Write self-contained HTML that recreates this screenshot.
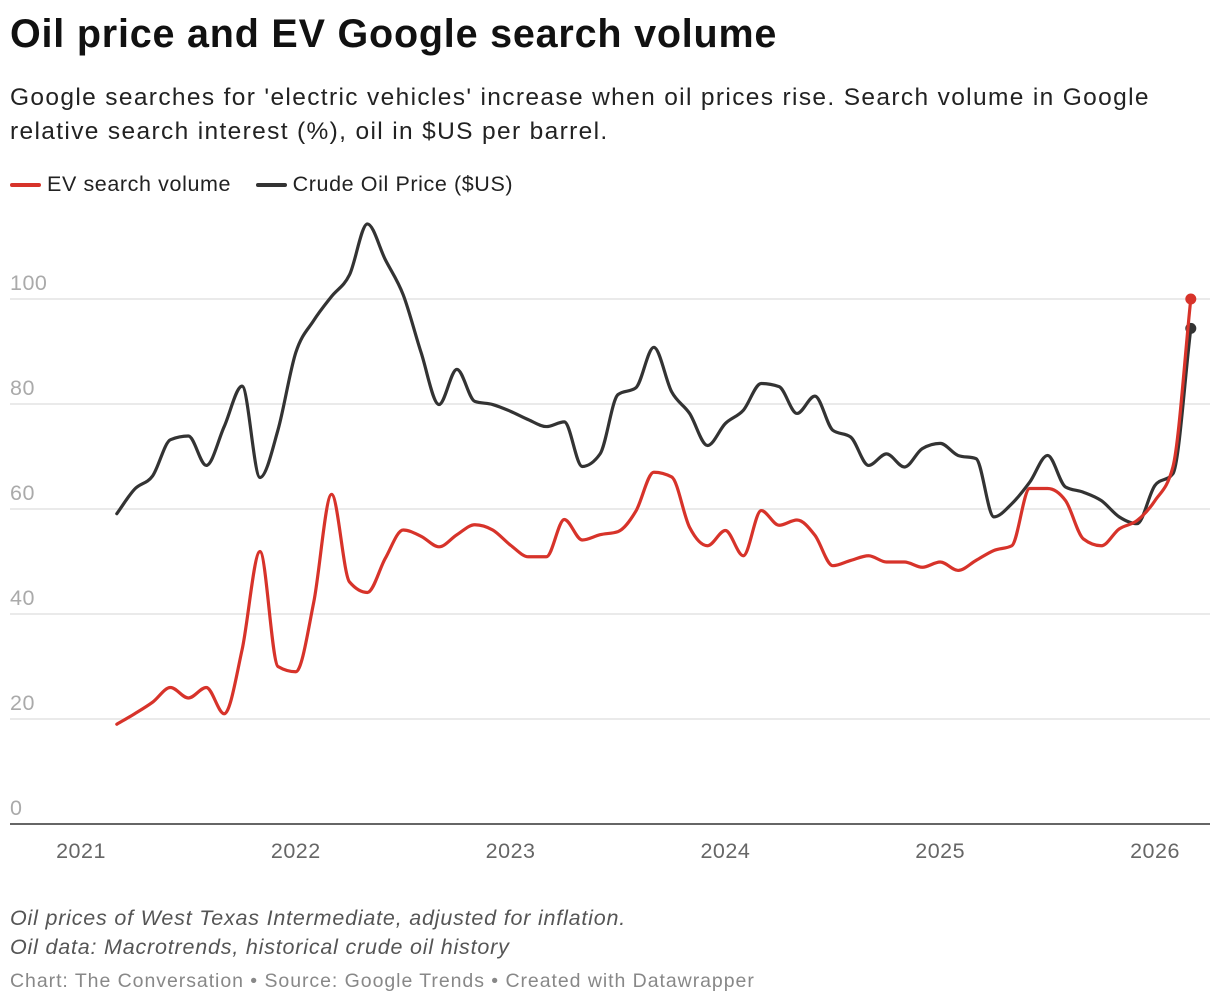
<!DOCTYPE html>
<html><head><meta charset="utf-8">
<style>
body{margin:0;background:#fff;width:1220px;height:1006px;overflow:hidden;font-family:"Liberation Sans",Arial,sans-serif;}
.t{position:absolute;left:10px;white-space:nowrap;}
</style></head>
<body>
<div class="t" style="top:12px;font-size:39.5px;letter-spacing:0.8px;font-weight:bold;color:#111;">Oil price and EV Google search volume</div>
<div class="t" style="top:81px;font-size:24.5px;letter-spacing:1.35px;line-height:34px;color:#222;">Google searches for 'electric vehicles' increase when oil prices rise. Search volume in Google<br>relative search interest (%), oil in $US per barrel.</div>
<div class="t" style="top:172px;font-size:21.5px;letter-spacing:0.6px;color:#222;">
 <span><span style="display:inline-block;width:31px;height:4px;background:#d7332a;border-radius:2px;vertical-align:middle;margin-right:6px"></span>EV search volume</span>
 <span style="margin-left:18px"><span style="display:inline-block;width:31px;height:4px;background:#333;border-radius:2px;vertical-align:middle;margin-right:6px"></span>Crude Oil Price ($US)</span>
</div>
<svg id="chart" width="1220" height="1006" style="position:absolute;left:0;top:0"></svg>
<div class="t" style="top:904px;font-size:21.5px;letter-spacing:0.8px;line-height:29px;font-style:italic;color:#555;">Oil prices of West Texas Intermediate, adjusted for inflation.<br>Oil data: Macrotrends, historical crude oil history</div>
<div class="t" style="top:970px;font-size:19.5px;letter-spacing:0.95px;color:#888;">Chart: The Conversation • Source: Google Trends • Created with Datawrapper</div>
<script>
const startYear = 2021, startMonth = 2; // March 2021
const evValues = [19,21,23.2,26,24,26,21,33.2,51.9,30,29,42.2,62.8,46.1,44.1,50.6,56,54.8,52.8,55.1,57,56,53.1,50.9,50.9,58,54.1,55.1,55.7,59.6,67,66.1,56.5,53,55.9,51.1,59.7,56.9,57.9,55,49.2,50.2,51.1,49.9,49.9,48.9,49.9,48.3,50.2,52.1,53,63.9,63.9,61.6,54.3,53,56.2,57.8,61.6,68,100];
const oilValues = [59.1,63.8,66.3,73.2,73.9,68.3,75.7,83.4,66,75,89.8,95.9,100.5,104.6,114.3,107.5,100.8,89.8,79.9,86.6,80.5,79.9,78.6,77,75.7,76.6,68.1,70.5,81.8,83.1,90.8,82.3,78.2,72.1,76.3,78.8,83.9,83.3,78.2,81.5,75,73.7,68.3,70.5,68,71.5,72.5,70.2,69.6,58.5,61,65.1,70.2,64.2,63.2,61.6,58.5,57.2,64.5,66.7,94.4];
const yTicks = [0,20,40,60,80,100];
const xTickYears = [2021,2022,2023,2024,2025,2026];

const svg = document.getElementById('chart');
const NS = 'http://www.w3.org/2000/svg';
function xScale(monthsSince2021){ return 81 + monthsSince2021 * (214.8/12); }
function yScale(v){ return 824 - v * 5.25; }
function mk(tag, attrs){ const e=document.createElementNS(NS,tag); for(const k in attrs) e.setAttribute(k,attrs[k]); svg.appendChild(e); return e; }

yTicks.forEach(t=>{
  if(t>0){
    const g = mk('line',{x1:10,x2:1210,y1:yScale(t),y2:yScale(t),stroke:'#e3e3e3','stroke-width':1.5});
    
    
  }
  const lb = mk('text',{x:10,y:yScale(t)-9,fill:'#aaa','font-size':21.5,'letter-spacing':0.5,'font-family':'Liberation Sans, sans-serif'});
  lb.textContent = t;
  
  
});
const base = mk('line',{x1:10,x2:1210,y1:824,y2:824,stroke:'#333','stroke-width':1.5});


xTickYears.forEach(yr=>{
  const x = xScale((yr-2021)*12);
  const lb = mk('text',{x:x,y:858,fill:'#666','font-size':21.5,'letter-spacing':0.5,'text-anchor':'middle','font-family':'Liberation Sans, sans-serif'});
  lb.textContent = yr;
  
  
});

function monotonePath(pts){
  const n=pts.length; if(n<2) return '';
  const dx=[],dy=[],m=[];
  for(let i=0;i<n-1;i++){dx[i]=pts[i+1][0]-pts[i][0];dy[i]=pts[i+1][1]-pts[i][1];m[i]=dy[i]/dx[i];}
  const t=[m[0]];
  for(let i=1;i<n-1;i++){
    if(m[i-1]*m[i]<=0) t[i]=0;
    else { const s=(m[i-1]*dx[i]+m[i]*dx[i-1])/(dx[i-1]+dx[i]); t[i]=(Math.sign(m[i-1])+Math.sign(m[i]))*Math.min(Math.abs(m[i-1]),Math.abs(m[i]),0.5*Math.abs(s)); }
  }
  t[n-1]=m[n-2];
  let d='M'+pts[0][0]+','+pts[0][1];
  for(let i=0;i<n-1;i++){
    const h=dx[i]/3;
    d+='C'+(pts[i][0]+h)+','+(pts[i][1]+h*t[i])+' '+(pts[i+1][0]-h)+','+(pts[i+1][1]-h*t[i+1])+' '+pts[i+1][0]+','+pts[i+1][1];
  }
  return d;
}
function drawSeries(vals,color,name){
  const pts = vals.map((v,i)=>[xScale(startMonth+i), yScale(v)]);
  const p = mk('path',{d:monotonePath(pts),fill:'none',stroke:color,'stroke-width':3.2,'stroke-linejoin':'round','stroke-linecap':'round'});
  
  
  const last = pts[pts.length-1];
  const c = mk('circle',{cx:last[0],cy:last[1],r:5.5,fill:color});
  
  
}
drawSeries(oilValues,'#333','oil-price');
drawSeries(evValues,'#d7332a','ev-search');
</script>
</body></html>
